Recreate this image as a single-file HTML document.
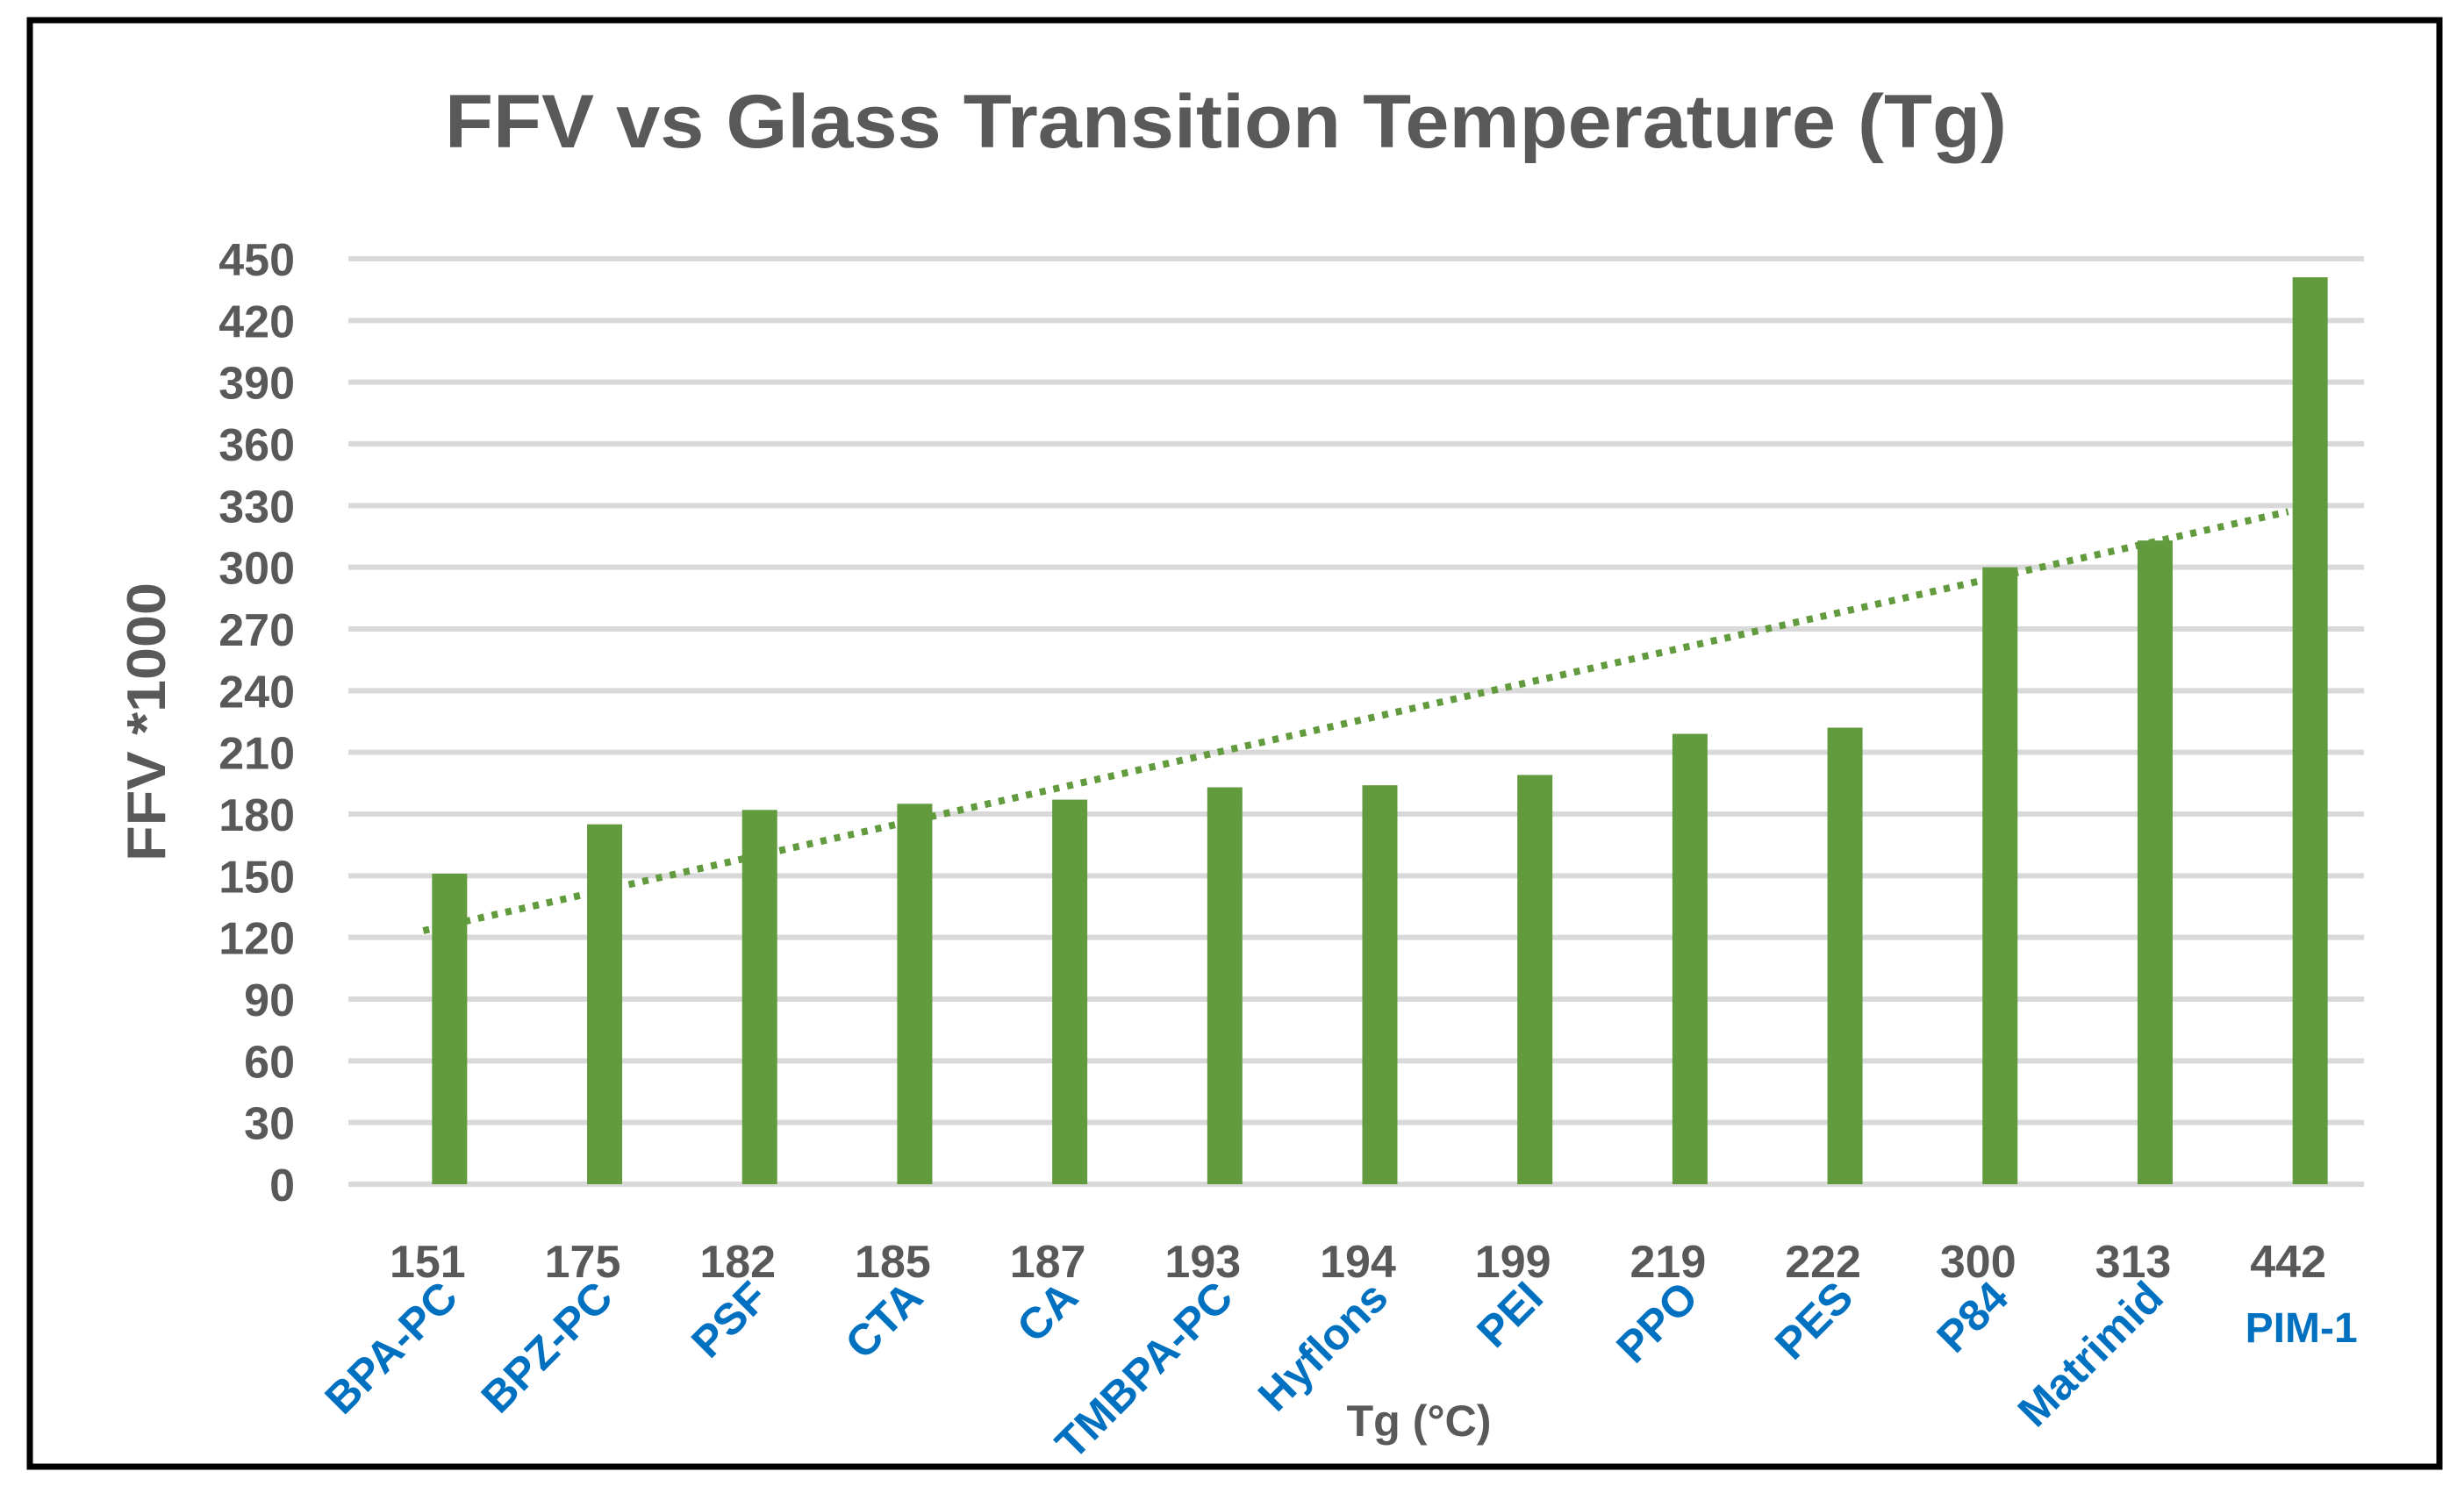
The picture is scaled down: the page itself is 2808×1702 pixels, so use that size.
<!DOCTYPE html>
<html><head><meta charset="utf-8"><style>
html,body{margin:0;padding:0;background:#fff;}
svg{display:block;}
text{font-family:"Liberation Sans",sans-serif;font-weight:bold;}
</style></head><body>
<svg id="chart" width="2808" height="1702" viewBox="0 0 2808 1702" xmlns="http://www.w3.org/2000/svg">
<rect x="0" y="0" width="2808" height="1702" fill="#fff"/>
<rect x="34" y="23" width="2746" height="1649" fill="none" stroke="#000" stroke-width="7"/>
<text x="1397" y="168" text-anchor="middle" font-size="86" fill="#595959" textLength="1780" lengthAdjust="spacingAndGlyphs">FFV vs Glass Transition Temperature (Tg)</text>
<g id="grid"></g>
<g id="ylabels"></g>
<g id="bars"></g>
<g id="trend"></g>
<g id="xlabels"></g>
<g id="names"></g>
<text transform="translate(188,823) rotate(-90)" text-anchor="middle" font-size="62" fill="#595959" textLength="318" lengthAdjust="spacingAndGlyphs">FFV *1000</text>
<text x="1617" y="1637" text-anchor="middle" font-size="50" fill="#595959" textLength="165" lengthAdjust="spacingAndGlyphs">Tg (°C)</text>
</svg>
<script>
const categories = ["151","175","182","185","187","193","194","199","219","222","300","313","442"];
const names = ["BPA-PC","BPZ-PC","PSF","CTA","CA","TMBPA-PC","Hyflons","PEI","PPO","PES","P84","Matrimid","PIM-1"];
const values = [151,175,182,185,187,193,194,199,219,222,300,313,441];
const yTicks = [0,30,60,90,120,150,180,210,240,270,300,330,360,390,420,450];

const NS = "http://www.w3.org/2000/svg";
const plotL = 397, plotR = 2694, y0 = 1350, yTop = 295, yMax = 450;
const band = (plotR - plotL) / categories.length;
function xScale(i){ return plotL + band * (i + 0.5) + 27; }
function yScale(v){ return y0 - (v / yMax) * (y0 - yTop); }
function mk(tag, attrs, parent){
  const e = document.createElementNS(NS, tag);
  for (const k in attrs) e.setAttribute(k, attrs[k]);
  parent.appendChild(e);
  return e;
}
const grid = document.getElementById('grid');
const yl = document.getElementById('ylabels');
yTicks.forEach(t => {
  const y = yScale(t);
  const l = mk('line', {x1: plotL, x2: plotR, y1: y, y2: y, stroke: '#D9D9D9', 'stroke-width': 6}, grid);
  
  
  const tx = mk('text', {x: 336, y: y + 19, 'text-anchor': 'end', 'font-size': 52, fill: '#595959'}, yl);
  tx.textContent = t;
  
  
});
const bars = document.getElementById('bars');
const xl = document.getElementById('xlabels');
const nm = document.getElementById('names');
const bw = 40;
values.forEach((v, i) => {
  const cx = xScale(i);
  const r = mk('rect', {x: cx - bw/2, y: yScale(v), width: bw, height: y0 - yScale(v), fill: '#629A3E'}, bars);
  
  
  const t = mk('text', {x: cx - 25, y: 1456, 'text-anchor': 'middle', 'font-size': 52, fill: '#595959'}, xl);
  t.textContent = categories[i];
  
  
  let n;
  if (i === categories.length - 1) {
    n = mk('text', {x: cx - 10, y: 1530, 'text-anchor': 'middle', 'font-size': 48, fill: '#0070C0'}, nm);
  } else {
    n = mk('text', {transform: 'translate(' + (cx + 12) + ',1482) rotate(-45)', 'text-anchor': 'end', 'font-size': 50, fill: '#0070C0'}, nm);
  }
  n.textContent = names[i];
  
  
});
const nPts = values.length;
let mx = 0, my = 0;
values.forEach((v, i) => { mx += i; my += v; });
mx /= nPts; my /= nPts;
let sxy = 0, sxx = 0;
values.forEach((v, i) => { sxy += (i - mx) * (v - my); sxx += (i - mx) * (i - mx); });
const slope = sxy / sxx, icpt = my - slope * mx;
const tl = mk('line', {x1: xScale(0) - 30, y1: yScale(icpt + slope * (-30/band)), x2: xScale(nPts - 1) - 25, y2: yScale(icpt + slope * (nPts - 1 - 25/band)), stroke: '#629A3E', 'stroke-width': 8, 'stroke-dasharray': '7 9'}, document.getElementById('trend'));


</script>
</body></html>
